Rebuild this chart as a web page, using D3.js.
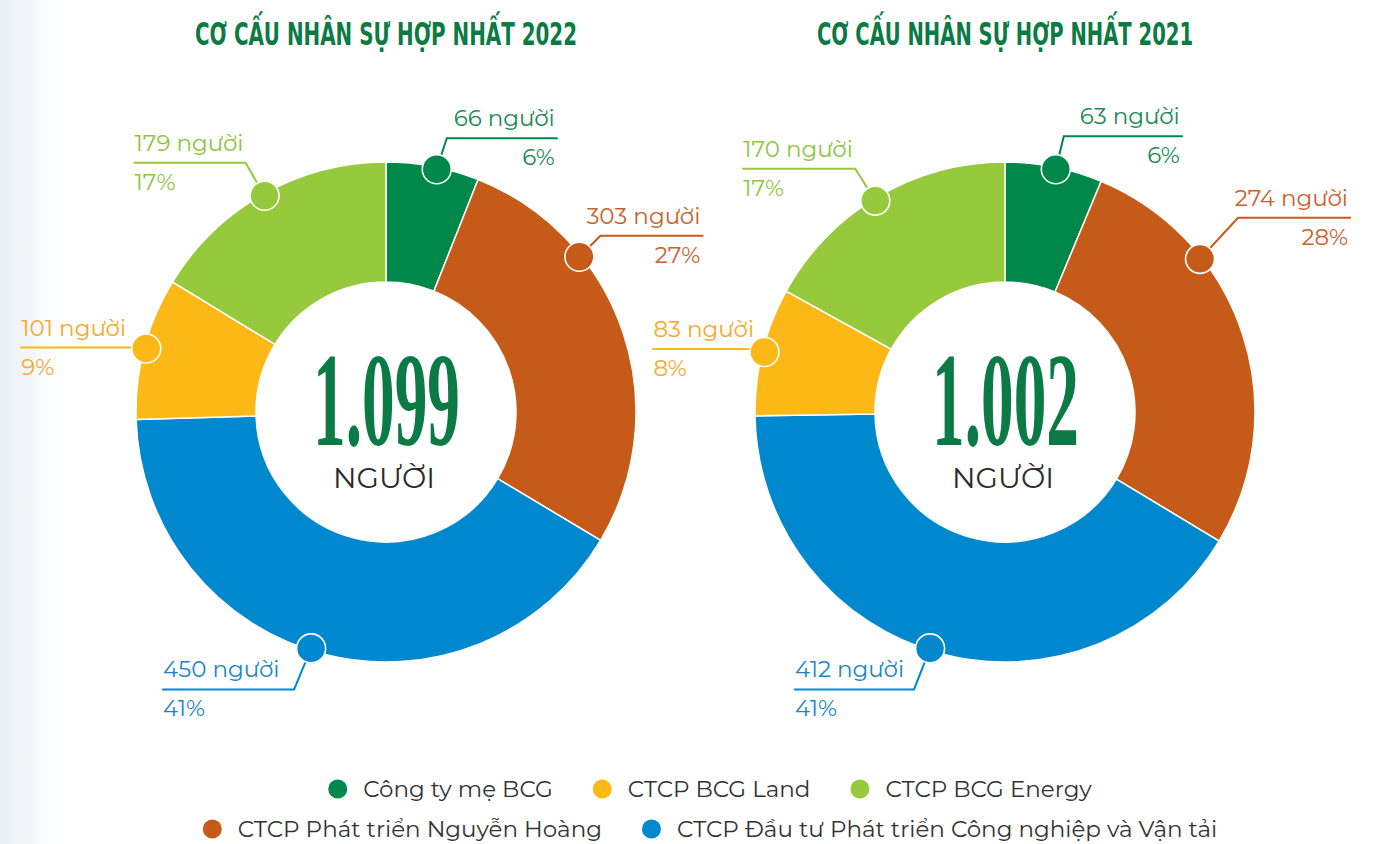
<!DOCTYPE html>
<html><head><meta charset="utf-8">
<script src="https://cdn.jsdelivr.net/npm/d3@7/dist/d3.min.js"></script>
<style>
html,body{margin:0;padding:0;background:#fff;}
svg{display:block;}
</style></head>
<body>
<svg id="chart" width="1386" height="844"></svg>
<script>
// ---------- DATA ----------
const categories = [
  "Công ty mẹ BCG",
  "CTCP Phát triển Nguyễn Hoàng",
  "CTCP Đầu tư Phát triển Công nghiệp và Vận tải",
  "CTCP BCG Land",
  "CTCP BCG Energy"
];
const values2022 = [66, 303, 450, 101, 179];
const values2021 = [63, 274, 412, 83, 170];
const percents2022 = ["6%", "27%", "41%", "9%", "17%"];
const percents2021 = ["6%", "28%", "41%", "8%", "17%"];
const titles = ["CƠ CẤU NHÂN SỰ HỢP NHẤT 2022", "CƠ CẤU NHÂN SỰ HỢP NHẤT 2021"];
const unitLabel = "người";
const centerUnit = "NGƯỜI";
const legendRows = [[0, 3, 4], [1, 2]];

// ---------- STYLE / LAYOUT ----------
const segColors = ["#00874a", "#c55a19", "#0088cf", "#fbb817", "#97c93d"];
const labelColors = ["#1b8a55", "#c8622b", "#1a86c8", "#f5a82c", "#8cc63f"];
const titleColor = "#0b7a45";
const W = 1386, H = 844;
const cy = 412, R = 250, r0 = 130;
// leader layout per chart: marker angle offset (deg), elbow dx, dy, horizontal length
const layouts = [
  { cx: 386, angOff: [1, -20, 3, 0, 0],
    elbow: [[10,-31],[21,-21],[-17,41],[0,-1],[-19,-33]],
    len: [111, 103, 132, 126, 112] },
  { cx: 1005, angOff: [0.5, -20, 2.5, 0, -1],
    elbow: [[8,-33],[38,-41],[-16,41],[0,-3],[-20,-32]],
    len: [119, 113, 120, 112, 113] }
];
const labelFont = "'Montserrat','Noto Sans','Open Sans',sans-serif";

const svg = d3.select("#chart");
const defs = svg.append("defs");
const grad = defs.append("linearGradient").attr("id","bg").attr("x1","0").attr("x2","1").attr("y1","0").attr("y2","0");
grad.append("stop").attr("offset","0").attr("stop-color","#eaf0f6");
grad.append("stop").attr("offset","0.045").attr("stop-color","#ffffff");
svg.append("rect").attr("width",W).attr("height",H).attr("fill","url(#bg)");

const vi = d3.formatLocale({decimal:",", thousands:".", grouping:[3], currency:["","₫"]});
const fmt = vi.format(",d");

const pie = d3.pie().sort(null).value(d => d);
const arc = d3.arc().innerRadius(r0).outerRadius(R);

const datasets = [
  {values: values2022, pcts: percents2022, title: titles[0]},
  {values: values2021, pcts: percents2021, title: titles[1]}
];

datasets.forEach((ds, k) => {
  const L = layouts[k];
  const g = svg.append("g");
  // title
  g.append("text").attr("x", L.cx).attr("y", 45)
    .attr("text-anchor","middle")
    .attr("font-family","'Liberation Sans Narrow','DejaVu Sans Condensed','Roboto Condensed','Liberation Sans',sans-serif")
    .attr("font-weight","bold").attr("font-size", 32)
    .attr("textLength", k === 0 ? 382 : 376).attr("lengthAdjust","spacingAndGlyphs")
    .attr("fill", titleColor).text(ds.title);

  const arcs = pie(ds.values);
  const dg = g.append("g").attr("transform", `translate(${L.cx},${cy})`);
  dg.selectAll("path.seg").data(arcs).join("path").attr("class","seg")
    .attr("d", arc).attr("fill", (d,i) => segColors[i])
    .attr("stroke","#fff").attr("stroke-width",1.5);

  // center text
  const total = d3.sum(ds.values);
  dg.append("text").attr("x", 0.5).attr("y", 33)
    .attr("text-anchor","middle")
    .attr("font-family","'Liberation Serif','DejaVu Serif',serif")
    .attr("font-weight","bold").attr("font-size", 133)
    .attr("textLength", 147).attr("lengthAdjust","spacingAndGlyphs")
    .attr("fill", titleColor).text(fmt(total));
  dg.append("text").attr("x", -2).attr("y", 76)
    .attr("text-anchor","middle")
    .attr("font-family", labelFont).attr("font-weight", 400)
    .attr("font-size", 28).attr("fill","#2b2b2b")
    .attr("textLength", 102).attr("lengthAdjust","spacingAndGlyphs")
    .text(centerUnit);

  // leaders + markers
  arcs.forEach((d, i) => {
    const a = (d.startAngle + d.endAngle) / 2 + L.angOff[i] * Math.PI / 180;
    const rm = R - 2;
    const mx = L.cx + rm * Math.sin(a), my = cy - rm * Math.cos(a);
    const ex = mx + L.elbow[i][0], ey = my + L.elbow[i][1];
    const right = Math.sin(a) > 0 && i < 2;
    const endX = right ? ex + L.len[i] : ex - L.len[i];
    g.append("path")
      .attr("d", `M${mx},${my}L${ex},${ey}L${endX},${ey}`)
      .attr("fill","none").attr("stroke", segColors[i]).attr("stroke-width", 2);
    g.append("circle").attr("cx", mx).attr("cy", my).attr("r", 14.5)
      .attr("fill", segColors[i]).attr("stroke","#fff").attr("stroke-width",1.6);
    const tx = right ? endX - 3 : endX + 1;
    const anchor = right ? "end" : "start";
    g.append("text").attr("x", tx).attr("y", ey - 12)
      .attr("text-anchor", anchor).attr("font-family", labelFont).attr("font-weight", 400)
      .attr("font-size", 23).attr("fill", labelColors[i])
      .text(`${ds.values[i]} ${unitLabel}`);
    g.append("text").attr("x", tx).attr("y", ey + 27)
      .attr("text-anchor", anchor).attr("font-family", labelFont).attr("font-weight", 400)
      .attr("font-size", 23).attr("fill", labelColors[i])
      .text(ds.pcts[i]);
  });
});

// ---------- LEGEND ----------
const legendCenter = 710, rowY = [789, 829], dotR = 9.5, dotGap = 16, itemGap = 40;
legendRows.forEach((row, ri) => {
  const lg = svg.append("g");
  const items = row.map(ci => {
    const it = lg.append("g");
    it.append("circle").attr("cx", dotR).attr("cy", 0).attr("r", dotR).attr("fill", segColors[ci]);
    const t = it.append("text").attr("x", 2*dotR + dotGap).attr("y", 8)
      .attr("font-family", labelFont).attr("font-size", 23).attr("fill","#333")
      .text(categories[ci]);
    const w = 2*dotR + dotGap + t.node().getComputedTextLength();
    return {it, w};
  });
  const total = d3.sum(items, d => d.w) + itemGap * (items.length - 1);
  let x = legendCenter - total / 2;
  items.forEach(({it, w}) => {
    it.attr("transform", `translate(${x},${rowY[ri]})`);
    x += w + itemGap;
  });
});
</script>
</body></html>
